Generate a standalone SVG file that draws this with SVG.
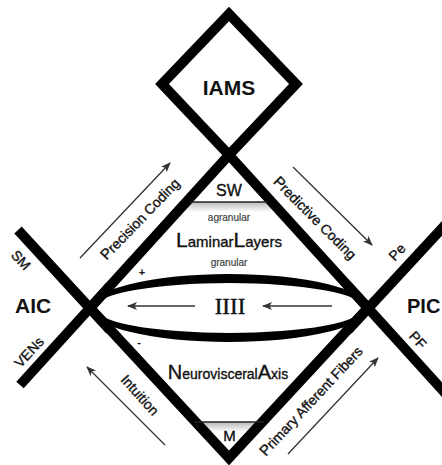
<svg xmlns="http://www.w3.org/2000/svg" width="442" height="465" viewBox="0 0 442 465">
<style>
.thick{fill:none;stroke:#000;stroke-width:10;stroke-linejoin:miter;stroke-miterlimit:10}
.ext{fill:none;stroke:#000;stroke-width:10;stroke-linecap:butt}
.arr{fill:none;stroke:#333;stroke-width:1.3;marker-end:url(#ah)}
.sep{stroke:#222;stroke-width:1.5}
text{font-family:"Liberation Sans",Arial,Helvetica,sans-serif;fill:#111}
.lab{font-size:14px;stroke:#111;stroke-width:0.35}
.big{font-size:21px;font-weight:bold}
.small{font-size:10px;fill:#444;stroke:#444;stroke-width:0.2}
.mid{text-anchor:middle}
.med{stroke:#111;stroke-width:0.35}
</style>
<defs>
<marker id="ah" markerWidth="10" markerHeight="8" refX="9" refY="4" orient="auto" markerUnits="userSpaceOnUse">
<path d="M0,0 L10,4 L0,8 L2.5,4 z" fill="#333"/>
</marker>
<linearGradient id="shade" x1="0" y1="0" x2="0" y2="1">
<stop offset="0" stop-color="#b8b8b8"/>
<stop offset="1" stop-color="#fff"/>
</linearGradient>
</defs>

<g id="shading">
<polygon points="186,202 272,202 281,212 177,212" fill="url(#shade)"/>
<polygon points="196,422 262,422 253,432 205,432" fill="url(#shade)"/>
</g>

<g id="IAMS">
<polygon class="thick" points="229,14 296,84 229,155 162,84"/>
<text class="big mid" x="229" y="95">IAMS</text>
</g>

<g id="insula">
<polygon class="thick" points="229,155 368,308 229,458 90,308"/>
<line class="ext" x1="18" y1="230" x2="110" y2="330"/>
<line class="ext" x1="20" y1="385" x2="110" y2="286"/>
<line class="ext" x1="446" y1="224" x2="348" y2="330"/>
<line class="ext" x1="446" y1="394" x2="348" y2="286"/>
</g>

<g id="lens">
<path fill="#000" fill-rule="evenodd" d="M90,308 A139,34 0 1,0 368,308 A139,34 0 1,0 90,308 Z M94,308 A135,25 0 1,0 364,308 A135,25 0 1,0 94,308 Z"/>
<text class="mid" x="230" y="314" style="font-family:'Liberation Serif','Times New Roman',serif;font-size:23px;stroke:#111;stroke-width:0.4">IIII</text>
</g>

<g id="SW">
<line class="sep" x1="190" y1="202" x2="268" y2="202"/>
<text class="mid med" x="229" y="196" style="font-size:16px">SW</text>
</g>

<g id="laminar">
<text class="small mid" x="229" y="221">agranular</text>
<text class="mid med" x="229" y="247" style="font-size:15px"><tspan style="font-size:21px">L</tspan>aminar<tspan style="font-size:21px">L</tspan>ayers</text>
<text class="small mid" x="229" y="266">granular</text>
<text class="mid" x="142" y="276" style="font-size:11px;font-weight:bold">+</text>
<text class="mid" x="139" y="346" style="font-size:11px;font-weight:bold">-</text>
</g>

<g id="neuro">
<text class="mid med" x="228" y="379" style="font-size:14px"><tspan style="font-size:20px">N</tspan>eurovisceral<tspan style="font-size:20px">A</tspan>xis</text>
</g>

<g id="M">
<line class="sep" x1="194" y1="422" x2="264" y2="422"/>
<text class="mid med" x="229.5" y="441" style="font-size:15px">M</text>
</g>

<g id="AIC"><text class="big" x="15" y="313">AIC</text></g>
<g id="PIC"><text class="big" x="407" y="313" style="font-size:20px">PIC</text></g>

<g id="labels">
<text class="lab mid" transform="translate(21,260) rotate(47)" y="5">SM</text>
<text class="lab mid" transform="translate(29,352) rotate(-47)" y="5">VENs</text>
<text class="lab mid" transform="translate(397,252) rotate(-47)" y="5">Pe</text>
<text class="lab mid" transform="translate(418,340) rotate(47)" y="5">PF</text>
<text class="lab mid" transform="translate(140,219) rotate(-46)" y="5"><tspan style="font-size:15px">P</tspan>recision Coding</text>
<text class="lab mid" transform="translate(315,218) rotate(45)" y="5"><tspan style="font-size:15px">P</tspan>redictive Coding</text>
<text class="lab mid" transform="translate(140,395) rotate(48)" y="5">Intuition</text>
<text class="lab mid" transform="translate(311,401) rotate(-47)" y="5"><tspan style="font-size:15px">P</tspan>rimary Afferent Fibers</text>
</g>

<g id="connectors">
<line class="arr" x1="80" y1="258" x2="170" y2="163"/>
<line class="arr" x1="293" y1="167" x2="372" y2="245"/>
<line class="arr" x1="165" y1="445" x2="87" y2="367"/>
<line class="arr" x1="288" y1="454" x2="378" y2="358"/>
<line class="arr" x1="195" y1="306" x2="128" y2="306"/>
<line class="arr" x1="332" y1="306" x2="263" y2="306"/>
</g>
</svg>
